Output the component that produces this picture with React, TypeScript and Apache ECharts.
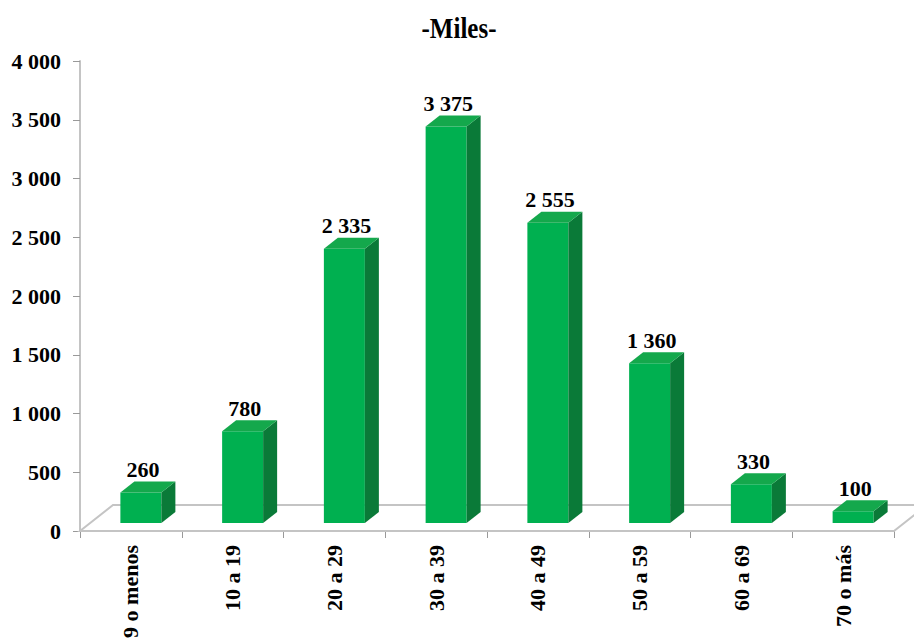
import React, { useEffect, useRef } from "react";
import * as echarts from "echarts";

const categories = ["9 o menos", "10 a 19", "20 a 29", "30 a 39", "40 a 49", "50 a 59", "60 a 69", "70 o más"];
const values = [260, 780, 2335, 3375, 2555, 1360, 330, 100];
const yTicks = [0, 500, 1000, 1500, 2000, 2500, 3000, 3500, 4000];
const titleText = "-Miles-";

const fmt = (v: number) => String(v).replace(/\B(?=(\d{3})+(?!\d))/g, " ");

export default function App() {
  const ref = useRef<HTMLDivElement>(null);
  useEffect(() => {
    if (!ref.current) return;
    const chart = echarts.init(ref.current, null, { renderer: "svg" });
    const font = "'Liberation Serif', 'Times New Roman', serif";
    const FRONT = "#00b050";
    const SIDE = "#0a7a38";
    const TOP = "#14a84c";
    const GRAY = "#c4c4c4";
    chart.setOption({
      animation: false,
      backgroundColor: "#ffffff",
      graphic: [
        {
          type: "text",
          x: 459,
          y: 28,
          scaleY: 1.15,
          style: {
            text: titleText,
            font: `bold 25px ${font}`,
            fill: "#000",
            align: "center",
            verticalAlign: "middle",
          },
        },
      ],
      grid: { left: 80, right: 20, top: 61, bottom: 107, containLabel: false, outerBoundsMode: "none" },
      xAxis: {
        type: "category",
        data: categories,
        boundaryGap: true,
        axisLine: { show: true, lineStyle: { color: GRAY, width: 2 } },
        axisTick: { show: true, alignWithLabel: false, length: 7, lineStyle: { color: "#999", width: 1 } },
        axisLabel: {
          rotate: 90,
          margin: 14,
          interval: 0,
          color: "#000",
          fontFamily: font,
          fontWeight: "bold",
          fontSize: 22,
        },
        splitLine: { show: false },
      },
      yAxis: {
        type: "value",
        min: yTicks[0],
        max: yTicks[yTicks.length - 1],
        interval: 500,
        axisLine: { show: true, lineStyle: { color: GRAY, width: 2 } },
        axisTick: { show: true, length: 7, lineStyle: { color: "#999", width: 1 } },
        axisLabel: {
          margin: 19,
          color: "#000",
          fontFamily: font,
          fontWeight: "bold",
          fontSize: 22,
          formatter: (v: number) => fmt(v),
        },
        splitLine: { show: false },
      },
      series: [
        {
          type: "custom",
          z: 1,
          data: [[0, 0]],
          renderItem: (params: any, api: any) => {
            const band = api.size([1, 0])[0];
            const base = api.coord([0, 0]);
            const left = base[0] - band / 2;
            const right = left + band * categories.length;
            const y0 = base[1];
            const ox = 33, oy = -26;
            return {
              type: "polygon",
              shape: {
                points: [
                  [left, y0],
                  [left + ox, y0 + oy],
                  [right + ox, y0 + oy],
                  [right, y0],
                ],
              },
              style: { fill: "#ffffff", stroke: GRAY, lineWidth: 2 },
            };
          },
        },
        {
          type: "custom",
          z: 2,
          data: values.map((v, i) => [i, v]),
          renderItem: (params: any, api: any) => {
            const i = api.value(0);
            const v = api.value(1);
            const top = api.coord([i, v]);
            const bot = api.coord([i, 0]);
            const w = 41;
            const dx = 10, dy = -8;
            const ox = 14, oy = -11;
            const x0 = top[0] - w / 2 + dx;
            const x1 = x0 + w;
            const yT = top[1] + dy;
            const yB = bot[1] + dy;
            return {
              type: "group",
              children: [
                {
                  type: "rect",
                  shape: { x: x0, y: yT, width: w, height: yB - yT },
                  style: { fill: FRONT },
                },
                {
                  type: "polygon",
                  shape: { points: [[x1, yB], [x1, yT], [x1 + ox, yT + oy], [x1 + ox, yB + oy]] },
                  style: { fill: SIDE },
                },
                {
                  type: "polygon",
                  shape: { points: [[x0, yT], [x0 + ox, yT + oy], [x1 + ox, yT + oy], [x1, yT]] },
                  style: { fill: TOP },
                },
                {
                  type: "text",
                  x: x0 + w / 2 + 2,
                  y: yT + oy - 1,
                  style: {
                    text: fmt(v),
                    font: `bold 22px ${font}`,
                    fill: "#000",
                    align: "center",
                    verticalAlign: "bottom",
                  },
                },
              ],
            };
          },
        },
      ],
    });
    return () => chart.dispose();
  }, []);
  return (
    <div
      ref={ref}
      style={{ position: "fixed", left: 0, top: 0, width: 914, height: 638, background: "#fff" }}
    />
  );
}
